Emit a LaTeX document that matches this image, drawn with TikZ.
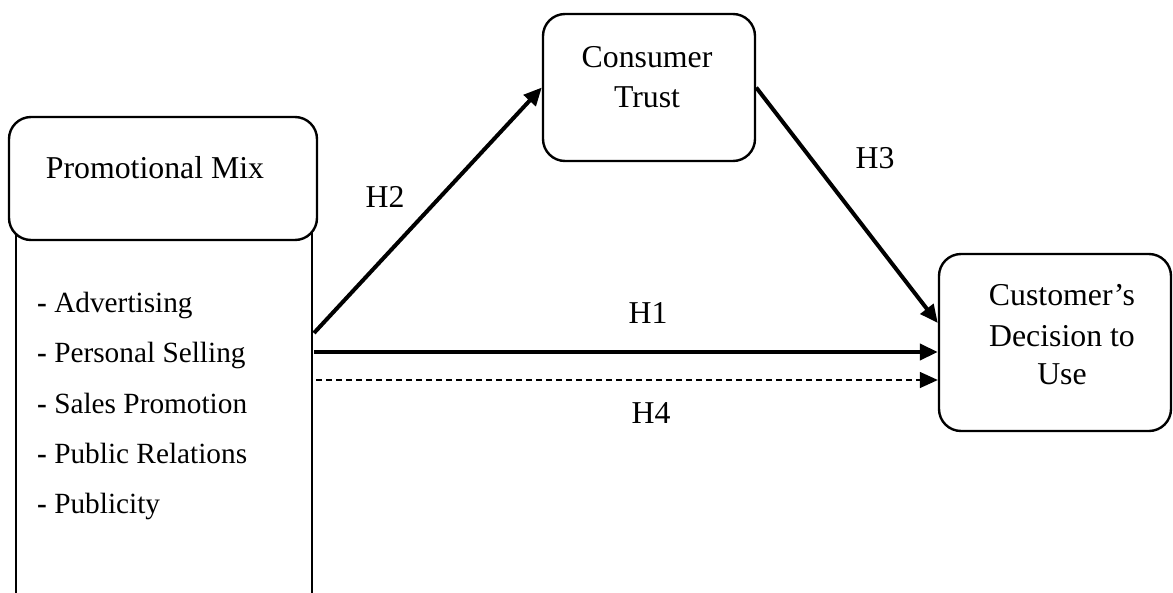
\documentclass[tikz,border=0pt]{standalone}
\usepackage{fontspec}
\setmainfont{Liberation Serif}
\usetikzlibrary{arrows.meta}
\begin{document}
\begin{tikzpicture}[x=1pt,y=-1pt,
  rbox/.style={draw, line width=2.4pt, rounded corners=22pt, fill=white, inner sep=0pt},
  lbox/.style={draw, line width=2.4pt, inner sep=0pt},
  txt/.style={font=\fontsize{31.8}{40}\selectfont, anchor=base, inner sep=0pt},
  itm/.style={font=\fontsize{29.3}{40}\selectfont, anchor=base west, inner sep=0pt},
  arr/.style={line width=4pt, -{Triangle[length=18pt,width=16pt]}},
  darr/.style={line width=1.5pt, dash pattern=on 6pt off 4pt, -{Triangle[length=18pt,width=16pt]}}]
\useasboundingbox (0,0) rectangle (1173,592);
\clip (0,0) rectangle (1173,592);
% list rectangle (extends below the page)
\node[lbox, minimum width=296pt, minimum height=420pt, anchor=north] (pl) at (164,232) {};
% boxes
\node[rbox, minimum width=308pt, minimum height=123pt] (pm) at (163,178.5) {};
\node[rbox, minimum width=212pt, minimum height=147pt] (ct) at (649,87.5) {};
\node[rbox, minimum width=232pt, minimum height=177pt] (cd) at (1055,342.5) {};
% texts
\node[txt] (pmt) at (155,178) {Promotional Mix};
\node[txt] (ct1) at (647,67) {Consumer};
\node[txt] (ct2) at (647,107) {Trust};
\node[txt] (cd1) at (1062,305) {Customer’s};
\node[txt] (cd2) at (1062,346) {Decision to};
\node[txt] (cd3) at (1062,384) {Use};
\node[itm] (i1) at (37,312) {\textbf{-} Advertising};
\node[itm] (i2) at (37,362) {\textbf{-} Personal Selling};
\node[itm] (i3) at (37,413) {\textbf{-} Sales Promotion};
\node[itm] (i4) at (37,463) {\textbf{-} Public Relations};
\node[itm] (i5) at (37,513) {\textbf{-} Publicity};
% labels
\node[txt] (h2) at (385,207) {H2};
\node[txt] (h1) at (648,323) {H1};
\node[txt] (h3) at (875,168) {H3};
\node[txt] (h4) at (651,423) {H4};
% connectors
\coordinate (s2) at (314,333);
\coordinate (s1) at (314,352);
\coordinate (s4) at (316,380);
\draw[arr] (s2) -- (ct.west);
\draw[arr] (ct.east) -- ([yshift=19.5pt]cd.west);
\draw[arr] (s1) -- ([yshift=-9.5pt]cd.west);
\draw[darr] (s4) -- ([yshift=-37.5pt]cd.west);
\end{tikzpicture}
\end{document}
